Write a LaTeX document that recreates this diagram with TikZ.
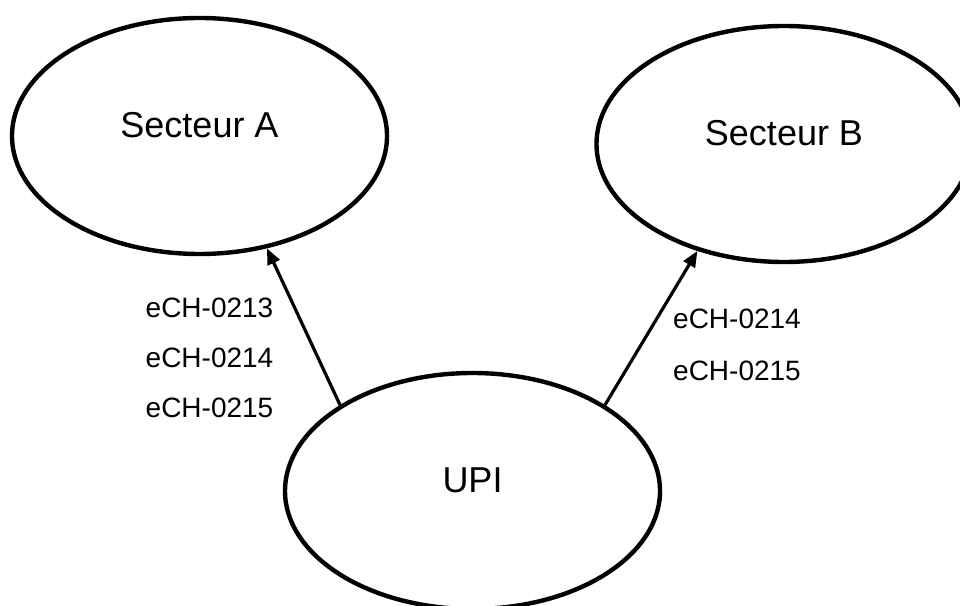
\documentclass[tikz,border=0pt]{standalone}
\usepackage{fontspec}
\setmainfont{Liberation Sans}
\usetikzlibrary{arrows.meta, positioning, shapes.geometric}

\begin{document}
\begin{tikzpicture}[x=1pt, y=1pt,
    sector/.style={draw, ellipse, line width=4.4pt, minimum width=375pt, minimum height=236pt, inner sep=0pt},
    sectortext/.style={inner sep=0pt, font=\fontsize{36}{43}\selectfont},
    codetext/.style={inner sep=0pt, font=\fontsize{28}{34}\selectfont},
    flow/.style={line width=3.2pt, -{Triangle[length=16pt, width=13pt]}}]
        \useasboundingbox (0,0) rectangle (960,605);
        % Sectors and UPI
        \node[sector] (secA) at (199.5,469) {};
        \node[sector] (secB) at (784,461) {};
        \node[sector] (upi) at (472.5,114) {};
        \node[sectortext] (secAname) at ([yshift=11pt]secA.center) {Secteur A};
        \node[sectortext] (secBname) at ([yshift=11pt]secB.center) {Secteur B};
        \node[sectortext] (upiname) at ([yshift=11pt]upi.center) {UPI};
        % Flows
        \draw[flow] (upi.147) -- (secA.-59);
        \draw[flow] (upi.33.6) -- (secB.231);
        % Standards sent to each sector
        \foreach \i/\code in {0/0213, 1/0214, 2/0215} {
          \node[codetext] (codeA\i) at (209.5, 297-\i*50) {eCH-\code};
        }
        \foreach \i/\code in {0/0214, 1/0215} {
          \node[codetext] (codeB\i) at (737, 286.5-\i*52) {eCH-\code};
        }
      \end{tikzpicture}
\end{document}
